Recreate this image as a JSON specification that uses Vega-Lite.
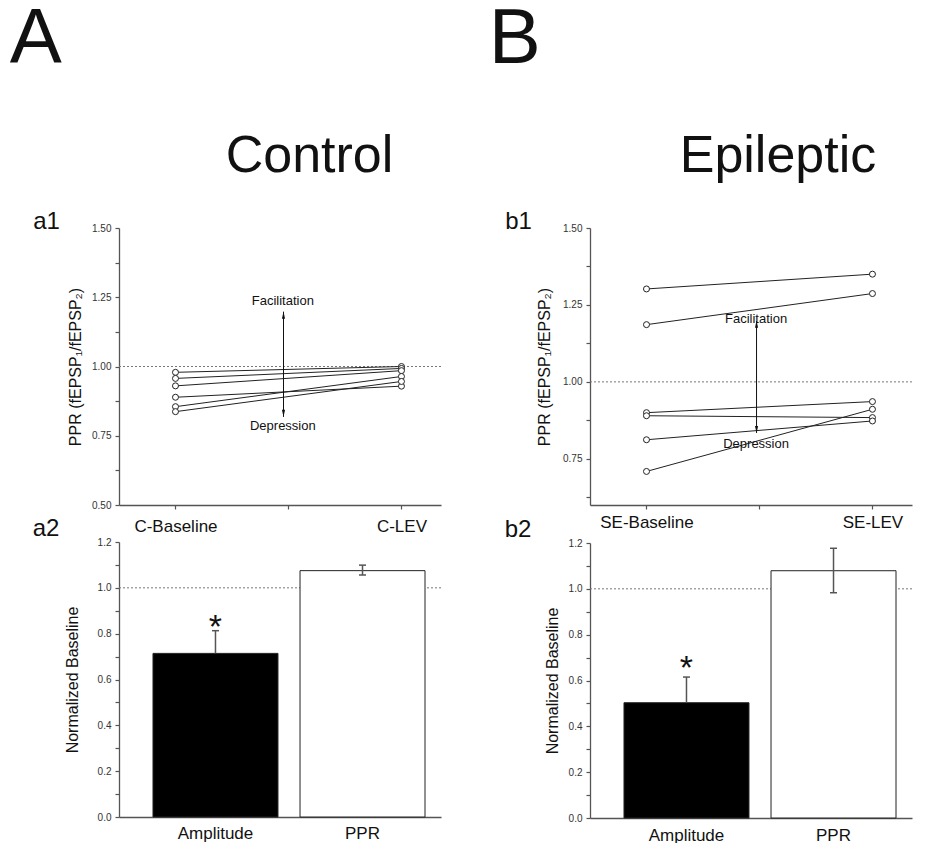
{
  "$schema": "https://vega.github.io/schema/vega-lite/v6.json",
  "padding": {"left": 9, "top": 1, "right": 0, "bottom": 0},
  "config": {
    "font": "Liberation Sans",
    "view": {"stroke": null},
    "axis": {"domainColor": "#555", "domainWidth": 1.3, "tickColor": "#555", "tickWidth": 1.2, "tickSize": 4, "labelColor": "#333", "labelFontSize": 10, "labelPadding": 4, "titleColor": "#111", "titleFontSize": 16, "titleFontWeight": "normal", "grid": false, "labelFont": "Liberation Sans", "titleFont": "Liberation Sans", "labelOverlap": false},
    "title": {"fontWeight": "normal", "color": "#111", "font": "Liberation Sans"}
  },
  "datasets": {
    "a1_lines": [
      {"subject": 1, "t": 0, "v": 0.979}, {"subject": 1, "t": 1, "v": 1.0},
      {"subject": 2, "t": 0, "v": 0.957}, {"subject": 2, "t": 1, "v": 0.993},
      {"subject": 3, "t": 0, "v": 0.930}, {"subject": 3, "t": 1, "v": 0.985},
      {"subject": 4, "t": 0, "v": 0.889}, {"subject": 4, "t": 1, "v": 0.929},
      {"subject": 5, "t": 0, "v": 0.855}, {"subject": 5, "t": 1, "v": 0.964},
      {"subject": 6, "t": 0, "v": 0.837}, {"subject": 6, "t": 1, "v": 0.946}
    ],
    "b1_lines": [
      {"subject": 1, "t": 0, "v": 1.302}, {"subject": 1, "t": 1, "v": 1.350},
      {"subject": 2, "t": 0, "v": 1.186}, {"subject": 2, "t": 1, "v": 1.287},
      {"subject": 3, "t": 0, "v": 0.900}, {"subject": 3, "t": 1, "v": 0.936},
      {"subject": 4, "t": 0, "v": 0.890}, {"subject": 4, "t": 1, "v": 0.884},
      {"subject": 5, "t": 0, "v": 0.812}, {"subject": 5, "t": 1, "v": 0.873},
      {"subject": 6, "t": 0, "v": 0.709}, {"subject": 6, "t": 1, "v": 0.911}
    ],
    "a1_arrow": [{"t": 0.478, "lo": 0.818, "hi": 1.198}],
    "a1_heads": [{"t": 0.478, "v": 1.185, "dir": "up"}, {"t": 0.478, "v": 0.831, "dir": "down"}],
    "a1_labels": [{"t": 0.475, "v": 1.238, "label": "Facilitation"}, {"t": 0.475, "v": 0.785, "label": "Depression"}],
    "b1_arrow": [{"t": 0.487, "lo": 0.834, "hi": 1.198}],
    "b1_heads": [{"t": 0.487, "v": 1.187, "dir": "up"}, {"t": 0.487, "v": 0.845, "dir": "down"}],
    "b1_labels": [{"t": 0.485, "v": 1.204, "label": "Facilitation"}, {"t": 0.485, "v": 0.798, "label": "Depression"}],
    "a2_bars": [
      {"measure": "Amplitude", "value": 0.714, "lo": 0.714, "hi": 0.813, "sig": "*"},
      {"measure": "PPR", "value": 1.075, "lo": 1.056, "hi": 1.099, "sig": ""}
    ],
    "b2_bars": [
      {"measure": "Amplitude", "value": 0.503, "lo": 0.503, "hi": 0.615, "sig": "*"},
      {"measure": "PPR", "value": 1.079, "lo": 0.983, "hi": 1.177, "sig": ""}
    ]
  },
  "spacing": 46,
  "hconcat": [
    {
      "title": {"text": "A", "anchor": "start", "frame": "bounds", "fontSize": 78, "baseline": "alphabetic", "offset": -11, "dx": -23},
      "vconcat": [
        {
          "title": {"text": "Control", "anchor": "start", "frame": "bounds", "fontSize": 52, "baseline": "alphabetic", "offset": -14, "dx": 193},
          "bounds": "flush",
          "spacing": 37,
          "vconcat": [
            {
              "width": 322, "height": 277,
              "title": {"text": "a1", "orient": "left", "anchor": "end", "angle": 0, "align": "right", "baseline": "alphabetic", "frame": "group", "fontSize": 24, "offset": -19, "dy": 1},
              "layer": [
                {"data": {"values": [{"v": 1}]}, "mark": {"type": "rule", "color": "#777", "strokeDash": [2, 2], "strokeWidth": 1},
                 "encoding": {"y": {"field": "v", "type": "quantitative", "title": "PPR (fEPSP₁/fEPSP₂)", "scale": {"domain": [0.5, 1.5], "nice": false, "zero": false}}}},
                {"data": {"name": "a1_lines"}, "mark": {"type": "line", "color": "#222", "strokeWidth": 1},
                 "encoding": {
                   "x": {"field": "t", "type": "quantitative", "title": null, "scale": {"domain": [-0.25, 1.175], "nice": false, "zero": false},
                         "axis": {"values": [0, 0.5, 1], "tickCount": 30, "labelExpr": "datum.value == 0 ? 'C-Baseline' : datum.value == 1 ? 'C-LEV' : ''", "labelFontSize": 17, "labelColor": "#111", "labelPadding": 9, "labelFlush": false}},
                   "y": {"field": "v", "type": "quantitative", "title": "PPR (fEPSP₁/fEPSP₂)", "scale": {"domain": [0.5, 1.5], "nice": false, "zero": false},
                         "axis": {"values": [0.5, 0.625, 0.75, 0.875, 1, 1.125, 1.25, 1.375, 1.5], "tickCount": 30, "labelExpr": "(datum.value*4) % 1 == 0 ? format(datum.value, '.2f') : ''", "titlePadding": 8}},
                   "detail": {"field": "subject", "type": "nominal"}}},
                {"data": {"name": "a1_lines"}, "mark": {"type": "point", "shape": "circle", "filled": true, "fill": "white", "stroke": "#222", "strokeWidth": 1, "size": 36, "opacity": 1},
                 "encoding": {
                   "x": {"field": "t", "type": "quantitative", "title": null, "scale": {"domain": [-0.25, 1.175], "nice": false, "zero": false}},
                   "y": {"field": "v", "type": "quantitative", "title": "PPR (fEPSP₁/fEPSP₂)", "scale": {"domain": [0.5, 1.5], "nice": false, "zero": false}}}},
                {"data": {"name": "a1_arrow"}, "mark": {"type": "rule", "color": "#111", "strokeWidth": 1},
                 "encoding": {
                   "x": {"field": "t", "type": "quantitative", "title": null, "scale": {"domain": [-0.25, 1.175], "nice": false, "zero": false}},
                   "y": {"field": "lo", "type": "quantitative", "title": "PPR (fEPSP₁/fEPSP₂)", "scale": {"domain": [0.5, 1.5], "nice": false, "zero": false}},
                   "y2": {"field": "hi"}}},
                {"data": {"name": "a1_heads"}, "mark": {"type": "point", "filled": true, "color": "#111", "size": 49, "opacity": 1},
                 "encoding": {
                   "x": {"field": "t", "type": "quantitative", "title": null, "scale": {"domain": [-0.25, 1.175], "nice": false, "zero": false}},
                   "y": {"field": "v", "type": "quantitative", "title": "PPR (fEPSP₁/fEPSP₂)", "scale": {"domain": [0.5, 1.5], "nice": false, "zero": false}},
                   "shape": {"field": "dir", "type": "nominal", "scale": {"domain": ["up", "down"], "range": ["M0,-1L0.45,1L-0.45,1Z", "M0,1L0.45,-1L-0.45,-1Z"]}, "legend": null}}},
                {"data": {"name": "a1_labels"}, "mark": {"type": "text", "fontSize": 13, "color": "#111", "baseline": "middle", "align": "center"},
                 "encoding": {
                   "x": {"field": "t", "type": "quantitative", "title": null, "scale": {"domain": [-0.25, 1.175], "nice": false, "zero": false}},
                   "y": {"field": "v", "type": "quantitative", "title": "PPR (fEPSP₁/fEPSP₂)", "scale": {"domain": [0.5, 1.5], "nice": false, "zero": false}},
                   "text": {"field": "label"}}}
              ]
            },
            {
              "width": 322, "height": 275,
              "title": {"text": "a2", "orient": "left", "anchor": "end", "angle": 0, "align": "right", "baseline": "alphabetic", "frame": "group", "fontSize": 24, "offset": -22, "dy": -6},
              "layer": [
                {"data": {"values": [{"v": 1}]}, "mark": {"type": "rule", "color": "#777", "strokeDash": [2, 2], "strokeWidth": 1},
                 "encoding": {"y": {"field": "v", "type": "quantitative", "title": "Normalized Baseline", "scale": {"domain": [0, 1.2], "nice": false, "zero": false}}}},
                {"data": {"name": "a2_bars"}, "mark": {"type": "bar", "stroke": "#222", "strokeWidth": 1},
                 "encoding": {
                   "x": {"field": "measure", "type": "nominal", "title": null, "sort": null, "scale": {"domain": ["Amplitude", "PPR"], "paddingInner": 0.15, "paddingOuter": 0.17, "align": 0.68},
                         "axis": {"labelAngle": 0, "labelFontSize": 17, "labelColor": "#111", "ticks": false, "labelPadding": 8}},
                   "y": {"field": "value", "type": "quantitative", "title": "Normalized Baseline", "scale": {"domain": [0, 1.2], "nice": false, "zero": false},
                         "axis": {"values": [0, 0.1, 0.2, 0.3, 0.4, 0.5, 0.6, 0.7, 0.8, 0.9, 1.0, 1.1, 1.2], "tickCount": 30, "labelExpr": "round(datum.value*10) % 2 == 0 ? format(datum.value, '.1f') : ''", "titlePadding": 17}},
                   "fill": {"field": "measure", "type": "nominal", "scale": {"domain": ["Amplitude", "PPR"], "range": ["#000000", "#ffffff"]}, "legend": null}}},
                {"data": {"name": "a2_bars"}, "mark": {"type": "rule", "color": "#555", "strokeWidth": 1.5},
                 "encoding": {
                   "x": {"field": "measure", "type": "nominal", "title": null, "sort": null},
                   "y": {"field": "lo", "type": "quantitative", "title": "Normalized Baseline", "scale": {"domain": [0, 1.2], "nice": false, "zero": false}},
                   "y2": {"field": "hi"}}},
                {"data": {"name": "a2_bars"}, "mark": {"type": "tick", "orient": "horizontal", "size": 7, "thickness": 1.5, "color": "#555", "opacity": 1},
                 "encoding": {
                   "x": {"field": "measure", "type": "nominal", "title": null, "sort": null},
                   "y": {"field": "hi", "type": "quantitative", "title": "Normalized Baseline", "scale": {"domain": [0, 1.2], "nice": false, "zero": false}}}},
                {"data": {"name": "a2_bars"}, "transform": [{"filter": "datum.lo < datum.value"}], "mark": {"type": "tick", "orient": "horizontal", "size": 7, "thickness": 1.5, "color": "#555", "opacity": 1},
                 "encoding": {
                   "x": {"field": "measure", "type": "nominal", "title": null, "sort": null},
                   "y": {"field": "lo", "type": "quantitative", "title": "Normalized Baseline", "scale": {"domain": [0, 1.2], "nice": false, "zero": false}}}},
                {"data": {"name": "a2_bars"}, "mark": {"type": "text", "fontSize": 34, "color": "#111", "baseline": "alphabetic", "align": "center", "dy": 7},
                 "encoding": {
                   "x": {"field": "measure", "type": "nominal", "title": null, "sort": null},
                   "y": {"field": "hi", "type": "quantitative", "title": "Normalized Baseline", "scale": {"domain": [0, 1.2], "nice": false, "zero": false}},
                   "text": {"field": "sig"}}}
              ]
            }
          ]
        }
      ]
    },
    {
      "title": {"text": "B", "anchor": "start", "frame": "bounds", "fontSize": 78, "baseline": "alphabetic", "offset": -11, "dx": -16},
      "vconcat": [
        {
          "title": {"text": "Epileptic", "anchor": "start", "frame": "bounds", "fontSize": 52, "baseline": "alphabetic", "offset": -14, "dx": 175},
          "bounds": "flush",
          "spacing": 38,
          "vconcat": [
            {
              "width": 322, "height": 277,
              "title": {"text": "b1", "orient": "left", "anchor": "end", "angle": 0, "align": "right", "baseline": "alphabetic", "frame": "group", "fontSize": 24, "offset": -22, "dy": 1},
              "layer": [
                {"data": {"values": [{"v": 1}]}, "mark": {"type": "rule", "color": "#777", "strokeDash": [2, 2], "strokeWidth": 1},
                 "encoding": {"y": {"field": "v", "type": "quantitative", "title": "PPR (fEPSP₁/fEPSP₂)", "scale": {"domain": [0.6, 1.5], "nice": false, "zero": false}}}},
                {"data": {"name": "b1_lines"}, "mark": {"type": "line", "color": "#222", "strokeWidth": 1},
                 "encoding": {
                   "x": {"field": "t", "type": "quantitative", "title": null, "scale": {"domain": [-0.25, 1.175], "nice": false, "zero": false},
                         "axis": {"values": [0, 0.5, 1], "tickCount": 30, "labelExpr": "datum.value == 0 ? 'SE-Baseline' : datum.value == 1 ? 'SE-LEV' : ''", "labelFontSize": 17, "labelColor": "#111", "labelPadding": 5, "labelFlush": false}},
                   "y": {"field": "v", "type": "quantitative", "title": "PPR (fEPSP₁/fEPSP₂)", "scale": {"domain": [0.6, 1.5], "nice": false, "zero": false},
                         "axis": {"values": [0.625, 0.75, 0.875, 1, 1.125, 1.25, 1.375, 1.5], "tickCount": 30, "labelExpr": "(datum.value*4) % 1 == 0 ? format(datum.value, '.2f') : ''", "titlePadding": 10}},
                   "detail": {"field": "subject", "type": "nominal"}}},
                {"data": {"name": "b1_lines"}, "mark": {"type": "point", "shape": "circle", "filled": true, "fill": "white", "stroke": "#222", "strokeWidth": 1, "size": 36, "opacity": 1},
                 "encoding": {
                   "x": {"field": "t", "type": "quantitative", "title": null, "scale": {"domain": [-0.25, 1.175], "nice": false, "zero": false}},
                   "y": {"field": "v", "type": "quantitative", "title": "PPR (fEPSP₁/fEPSP₂)", "scale": {"domain": [0.6, 1.5], "nice": false, "zero": false}}}},
                {"data": {"name": "b1_arrow"}, "mark": {"type": "rule", "color": "#111", "strokeWidth": 1},
                 "encoding": {
                   "x": {"field": "t", "type": "quantitative", "title": null, "scale": {"domain": [-0.25, 1.175], "nice": false, "zero": false}},
                   "y": {"field": "lo", "type": "quantitative", "title": "PPR (fEPSP₁/fEPSP₂)", "scale": {"domain": [0.6, 1.5], "nice": false, "zero": false}},
                   "y2": {"field": "hi"}}},
                {"data": {"name": "b1_heads"}, "mark": {"type": "point", "filled": true, "color": "#111", "size": 49, "opacity": 1},
                 "encoding": {
                   "x": {"field": "t", "type": "quantitative", "title": null, "scale": {"domain": [-0.25, 1.175], "nice": false, "zero": false}},
                   "y": {"field": "v", "type": "quantitative", "title": "PPR (fEPSP₁/fEPSP₂)", "scale": {"domain": [0.6, 1.5], "nice": false, "zero": false}},
                   "shape": {"field": "dir", "type": "nominal", "scale": {"domain": ["up", "down"], "range": ["M0,-1L0.45,1L-0.45,1Z", "M0,1L0.45,-1L-0.45,-1Z"]}, "legend": null}}},
                {"data": {"name": "b1_labels"}, "mark": {"type": "text", "fontSize": 13, "color": "#111", "baseline": "middle", "align": "center"},
                 "encoding": {
                   "x": {"field": "t", "type": "quantitative", "title": null, "scale": {"domain": [-0.25, 1.175], "nice": false, "zero": false}},
                   "y": {"field": "v", "type": "quantitative", "title": "PPR (fEPSP₁/fEPSP₂)", "scale": {"domain": [0.6, 1.5], "nice": false, "zero": false}},
                   "text": {"field": "label"}}}
              ]
            },
            {
              "width": 322, "height": 275,
              "title": {"text": "b2", "orient": "left", "anchor": "end", "angle": 0, "align": "right", "baseline": "alphabetic", "frame": "group", "fontSize": 24, "offset": -14, "dy": -6},
              "layer": [
                {"data": {"values": [{"v": 1}]}, "mark": {"type": "rule", "color": "#777", "strokeDash": [2, 2], "strokeWidth": 1},
                 "encoding": {"y": {"field": "v", "type": "quantitative", "title": "Normalized Baseline", "scale": {"domain": [0, 1.2], "nice": false, "zero": false}}}},
                {"data": {"name": "b2_bars"}, "mark": {"type": "bar", "stroke": "#222", "strokeWidth": 1},
                 "encoding": {
                   "x": {"field": "measure", "type": "nominal", "title": null, "sort": null, "scale": {"domain": ["Amplitude", "PPR"], "paddingInner": 0.15, "paddingOuter": 0.17, "align": 0.68},
                         "axis": {"labelAngle": 0, "labelFontSize": 17, "labelColor": "#111", "ticks": false, "labelPadding": 9}},
                   "y": {"field": "value", "type": "quantitative", "title": "Normalized Baseline", "scale": {"domain": [0, 1.2], "nice": false, "zero": false},
                         "axis": {"values": [0, 0.1, 0.2, 0.3, 0.4, 0.5, 0.6, 0.7, 0.8, 0.9, 1.0, 1.1, 1.2], "tickCount": 30, "labelExpr": "round(datum.value*10) % 2 == 0 ? format(datum.value, '.1f') : ''", "titlePadding": 8}},
                   "fill": {"field": "measure", "type": "nominal", "scale": {"domain": ["Amplitude", "PPR"], "range": ["#000000", "#ffffff"]}, "legend": null}}},
                {"data": {"name": "b2_bars"}, "mark": {"type": "rule", "color": "#555", "strokeWidth": 1.5},
                 "encoding": {
                   "x": {"field": "measure", "type": "nominal", "title": null, "sort": null},
                   "y": {"field": "lo", "type": "quantitative", "title": "Normalized Baseline", "scale": {"domain": [0, 1.2], "nice": false, "zero": false}},
                   "y2": {"field": "hi"}}},
                {"data": {"name": "b2_bars"}, "mark": {"type": "tick", "orient": "horizontal", "size": 7, "thickness": 1.5, "color": "#555", "opacity": 1},
                 "encoding": {
                   "x": {"field": "measure", "type": "nominal", "title": null, "sort": null},
                   "y": {"field": "hi", "type": "quantitative", "title": "Normalized Baseline", "scale": {"domain": [0, 1.2], "nice": false, "zero": false}}}},
                {"data": {"name": "b2_bars"}, "transform": [{"filter": "datum.lo < datum.value"}], "mark": {"type": "tick", "orient": "horizontal", "size": 7, "thickness": 1.5, "color": "#555", "opacity": 1},
                 "encoding": {
                   "x": {"field": "measure", "type": "nominal", "title": null, "sort": null},
                   "y": {"field": "lo", "type": "quantitative", "title": "Normalized Baseline", "scale": {"domain": [0, 1.2], "nice": false, "zero": false}}}},
                {"data": {"name": "b2_bars"}, "mark": {"type": "text", "fontSize": 34, "color": "#111", "baseline": "alphabetic", "align": "center", "dy": 2},
                 "encoding": {
                   "x": {"field": "measure", "type": "nominal", "title": null, "sort": null},
                   "y": {"field": "hi", "type": "quantitative", "title": "Normalized Baseline", "scale": {"domain": [0, 1.2], "nice": false, "zero": false}},
                   "text": {"field": "sig"}}}
              ]
            }
          ]
        }
      ]
    }
  ]
}
